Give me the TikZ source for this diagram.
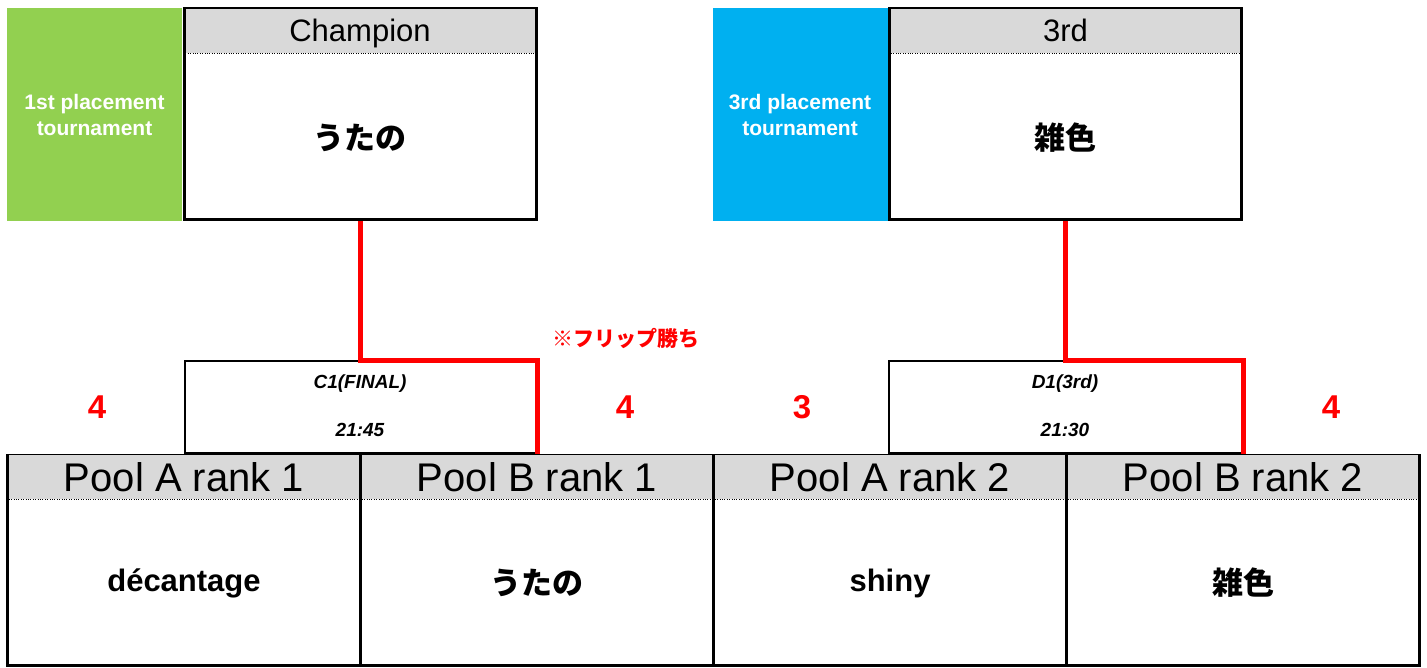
\documentclass[tikz,border=0pt]{standalone}
\usepackage{fontspec}
\setmainfont{Liberation Sans}
\newfontfamily\jpfont{Noto Sans CJK JP}
\usetikzlibrary{positioning,calc}
\definecolor{headgray}{HTML}{D9D9D9}
\definecolor{tourgreen}{HTML}{92D050}
\definecolor{tourblue}{HTML}{00B0F0}
\definecolor{winred}{HTML}{FF0000}

\tikzset{
  tagbox/.style={minimum width=175pt, minimum height=213pt, inner sep=0pt, text=white, align=center, font=\fontsize{21}{26}\selectfont\bfseries},
  entrybox/.style={draw, line width=3pt, minimum width=352pt, minimum height=211pt, inner sep=0pt},
  poolbox/.style={entrybox, minimum width=353pt, minimum height=210pt},
  headbar/.style={fill=headgray, minimum width=349pt, minimum height=43.5pt, inner sep=0pt, text height=22pt, text depth=0pt, font=\fontsize{31}{34}\selectfont},
  poolbar/.style={headbar, minimum width=350pt, text height=28.5pt, font=\fontsize{40}{44}\selectfont},
  nametext/.style={font=\fontsize{31}{34}\selectfont\bfseries},
  matchbox/.style={draw, line width=1.5pt, minimum height=92pt, inner sep=0pt},
  matchtext/.style={font=\fontsize{19}{21}\selectfont\bfseries\itshape},
  score/.style={text=winred, font=\fontsize{33}{36}\selectfont\bfseries},
  winline/.style={draw=winred, line width=5pt},
}

\begin{document}
\begin{tikzpicture}[x=1pt, y=-1pt]
    \useasboundingbox (0,0) rectangle (1427,668);

    % 1st placement
    \node[tagbox, fill=tourgreen] (tag1) at (94.5,114.5) {1st placement\\tournament};
    \node[entrybox] (champ) at (360,114.5) {};
    \node[headbar, below=1.5pt of champ.north] (hchamp) {Champion};
    \draw[dotted] (hchamp.south west) -- (hchamp.south east);
    \node[nametext] (wchamp) at (360,138) {\jpfont うたの};

    % 3rd placement
    \node[tagbox, fill=tourblue] (tag3) at (800,114.5) {3rd placement\\tournament};
    \node[entrybox] (third) at (1065.5,114.5) {};
    \node[headbar, below=1.5pt of third.north] (hthird) {3rd};
    \draw[dotted] (hthird.south west) -- (hthird.south east);
    \node[nametext] (wthird) at (1065.5,138) {\jpfont 雑色};

    % matches
    \node[matchbox, minimum width=352pt] (c1) at (361,407) {};
    \node[matchtext] at (360,384) {C1(FINAL)};
    \node[matchtext] at (360,430) {21:45};
    \node[matchbox, minimum width=353pt] (d1) at (1065.5,407) {};
    \node[matchtext] at (1065,384) {D1(3rd)};
    \node[matchtext] at (1065,430) {21:30};

    % pools
    \node[poolbox] (pa) at (184,560) {};
    \node[poolbar, below=1.5pt of pa.north] (hpa) {Pool A rank 1};
    \draw[dotted] (hpa.south west) -- (hpa.south east);
    \node[nametext] (npa) at (184,583) {décantage};

    \node[poolbox] (pb) at (537,560) {};
    \node[poolbar, below=1.5pt of pb.north] (hpb) {Pool B rank 1};
    \draw[dotted] (hpb.south west) -- (hpb.south east);
    \node[nametext] (npb) at (537,583) {\jpfont うたの};

    \node[poolbox] (pc) at (890,560) {};
    \node[poolbar, below=1.5pt of pc.north] (hpc) {Pool A rank 2};
    \draw[dotted] (hpc.south west) -- (hpc.south east);
    \node[nametext] (npc) at (890,583) {shiny};

    \node[poolbox] (pd) at (1243,560) {};
    \node[poolbar, below=1.5pt of pd.north] (hpd) {Pool B rank 2};
    \draw[dotted] (hpd.south west) -- (hpd.south east);
    \node[nametext] (npd) at (1243,583) {\jpfont 雑色};

    % winners
    \draw[winline] (champ.south) |- (pb.north |- c1.north) -- (pb.north);
    \draw[winline] (third.south) |- (pd.north |- d1.north) -- (pd.north);

    % scores
    \node[score] (s1) at (97,407) {4};
    \node[score] (s2) at (625,407) {4};
    \node[score] (s3) at (802,407) {3};
    \node[score] (s4) at (1331,407) {4};
    \node[text=winred, font=\fontsize{21}{23}\selectfont\bfseries\jpfont] (flip) at (626,338) {※フリップ勝ち};
\end{tikzpicture}
\end{document}
